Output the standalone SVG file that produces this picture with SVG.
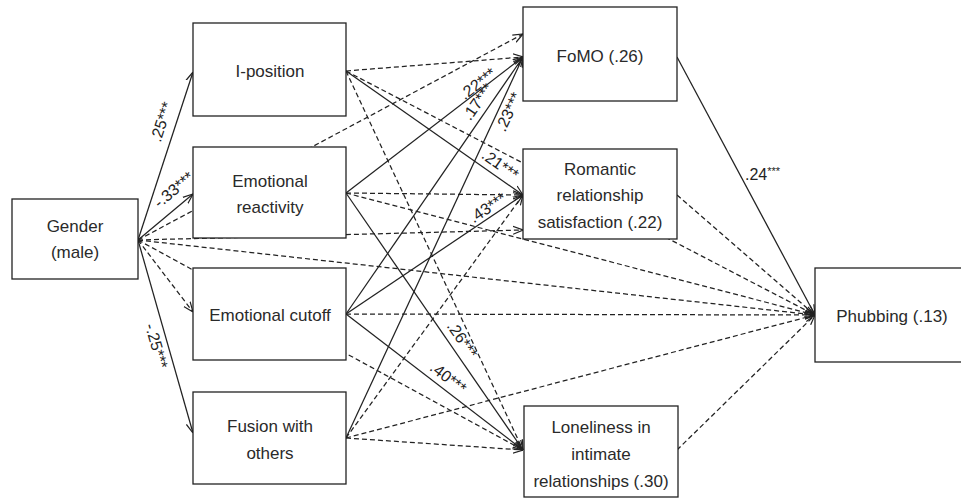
<svg xmlns="http://www.w3.org/2000/svg" width="961" height="498" viewBox="0 0 961 498">
<style>
.box{fill:#fff;stroke:#222;stroke-width:1.3}
.t{font-family:"Liberation Sans",Arial,sans-serif;font-size:17px;fill:#2a2a2a;text-anchor:middle}
.c{fill:none;stroke:#222;stroke-width:1.25;marker-end:url(#ar)}
.d{stroke-dasharray:5,3}
.l{font-family:"Liberation Sans",Arial,sans-serif;font-size:16px;fill:#222;text-anchor:middle}
.l2{font-family:"Liberation Sans",Arial,sans-serif;font-size:16px;fill:#222}
</style>
<defs>
<marker id="ar" viewBox="0 0 10 10" refX="10" refY="5" markerWidth="10" markerHeight="10" markerUnits="userSpaceOnUse" orient="auto">
<path d="M0,1 L10,5 L0,9" fill="none" stroke="#222" stroke-width="1.2"/>
</marker>
</defs>
<g id="connectors">
<line class="c" x1="138" y1="240" x2="193" y2="72"/>
<line class="c" x1="138" y1="240" x2="193" y2="194"/>
<line class="c d" x1="138" y1="240" x2="193" y2="312"/>
<line class="c" x1="138" y1="240" x2="193" y2="433"/>
<line class="c d" x1="138" y1="240" x2="523" y2="34"/>
<line class="c d" x1="138" y1="240" x2="523" y2="230"/>
<line class="c d" x1="138" y1="240" x2="815" y2="315"/>
<line class="c d" x1="138" y1="240" x2="523" y2="450"/>
<line class="c d" x1="346" y1="71" x2="523" y2="57"/>
<line class="c" x1="346" y1="71" x2="523" y2="195"/>
<line class="c d" x1="346" y1="71" x2="815" y2="315"/>
<line class="c d" x1="346" y1="71" x2="523" y2="450"/>
<line class="c" x1="346" y1="193" x2="523" y2="57"/>
<line class="c d" x1="346" y1="193" x2="523" y2="195"/>
<line class="c" x1="346" y1="193" x2="523" y2="450"/>
<line class="c d" x1="346" y1="193" x2="815" y2="315"/>
<line class="c" x1="346" y1="314" x2="523" y2="57"/>
<line class="c" x1="346" y1="314" x2="523" y2="195"/>
<line class="c d" x1="346" y1="314" x2="815" y2="315"/>
<line class="c" x1="346" y1="314" x2="523" y2="450"/>
<line class="c" x1="346" y1="438" x2="523" y2="57"/>
<line class="c d" x1="346" y1="438" x2="523" y2="195"/>
<line class="c d" x1="346" y1="438" x2="815" y2="315"/>
<line class="c d" x1="346" y1="438" x2="523" y2="450"/>
<line class="c" x1="677" y1="57" x2="815" y2="315"/>
<line class="c d" x1="677" y1="195" x2="815" y2="315"/>
<line class="c d" x1="677" y1="450" x2="815" y2="315"/>
</g>
<g id="labels">
<text class="l" transform="translate(162,122) rotate(-72)" y="5">.25***</text>
<text class="l" transform="translate(174,190) rotate(-40)" y="5">-.33***</text>
<text class="l" transform="translate(156,346) rotate(74)" y="5">-.25***</text>
<text class="l" transform="translate(478,84) rotate(-37.5)" y="5">.22***</text>
<text class="l" transform="translate(478,102) rotate(-55)" y="5">.17***</text>
<text class="l" transform="translate(509,112) rotate(-65)" y="5">.23***</text>
<text class="l" transform="translate(500,165) rotate(35)" y="5">.21***</text>
<text class="l" transform="translate(488,208) rotate(-34)" y="5">.43***</text>
<text class="l" transform="translate(462,340) rotate(55)" y="5">.26***</text>
<text class="l" transform="translate(448,378) rotate(37.5)" y="5">.40***</text>
<text class="l2" x="745" y="180">.24<tspan font-size="11" dy="-5">***</tspan></text>
</g>
<g id="gender">
<rect class="box" x="12" y="199" width="126" height="80"/>
<text class="t" x="75" y="232">Gender</text>
<text class="t" x="75" y="258">(male)</text>
</g>
<g id="i-position">
<rect class="box" x="193" y="23" width="153" height="93"/>
<text class="t" x="270" y="77">I-position</text>
</g>
<g id="emotional-reactivity">
<rect class="box" x="193" y="147" width="153" height="91"/>
<text class="t" x="270" y="187">Emotional</text>
<text class="t" x="270" y="213">reactivity</text>
</g>
<g id="emotional-cutoff">
<rect class="box" x="193" y="268" width="153" height="92"/>
<text class="t" x="270" y="321">Emotional cutoff</text>
</g>
<g id="fusion">
<rect class="box" x="193" y="392" width="153" height="92"/>
<text class="t" x="270" y="432">Fusion with</text>
<text class="t" x="270" y="459">others</text>
</g>
<g id="fomo">
<rect class="box" x="523" y="7" width="154" height="94"/>
<text class="t" x="600" y="62">FoMO (.26)</text>
</g>
<g id="romantic">
<rect class="box" x="523" y="149" width="154" height="90"/>
<text class="t" x="600" y="175">Romantic</text>
<text class="t" x="600" y="201">relationship</text>
<text class="t" x="600" y="228">satisfaction (.22)</text>
</g>
<g id="loneliness">
<rect class="box" x="524" y="406" width="154" height="91"/>
<text class="t" x="601" y="433">Loneliness in</text>
<text class="t" x="601" y="460">intimate</text>
<text class="t" x="601" y="487">relationships (.30)</text>
</g>
<g id="phubbing">
<rect class="box" x="815" y="268" width="170" height="94"/>
<text class="t" x="892" y="322">Phubbing (.13)</text>
</g>
</svg>
